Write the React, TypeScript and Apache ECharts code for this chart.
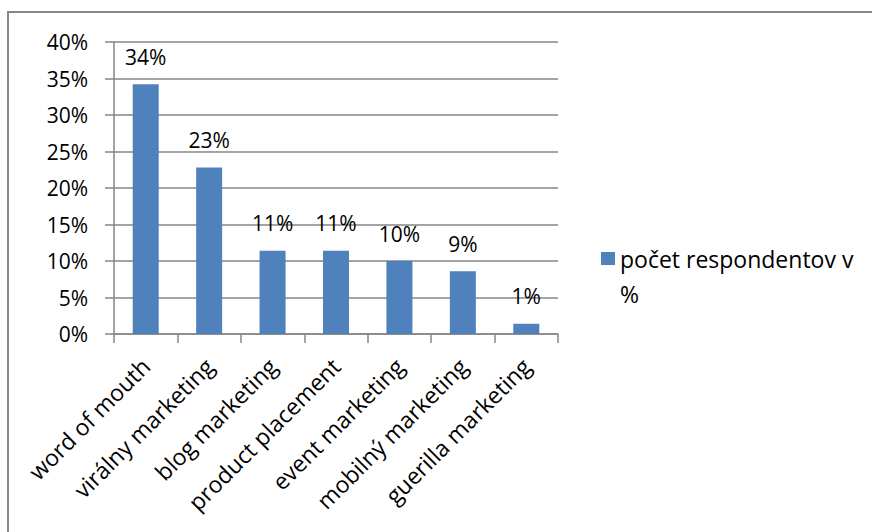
import React, { useEffect, useRef } from "react";
import * as echarts from "echarts";

// Marketing channels and share of respondents (in %)
const categories = [
  "word of mouth",
  "virálny marketing",
  "blog marketing",
  "product placement",
  "event marketing",
  "mobilný marketing",
  "guerilla marketing",
];
const seriesName = "počet respondentov v %";
const values = [34.2, 22.8, 11.4, 11.4, 10.0, 8.6, 1.4];
const yTicks = { min: 0, max: 40, interval: 5 };

const FONT = "'Open Sans', 'Noto Sans', sans-serif";
const AXIS_GRAY = "#868686";
const LEGEND_LINE = 35;

export default function App() {
  const ref = useRef<HTMLDivElement>(null);

  useEffect(() => {
    if (!ref.current) return;
    const chart = echarts.init(ref.current, undefined, { renderer: "svg" });
    chart.setOption({
      animation: false,
      backgroundColor: "#ffffff",
      textStyle: { fontFamily: FONT },
      graphic: [
        {
          type: "rect",
          shape: { x: 8, y: 12, width: 900, height: 560 },
          style: { fill: "none", stroke: "#878787", lineWidth: 2 },
          silent: true,
        },
      ],
      grid: { left: 114, right: 314, top: 42, bottom: 198, containLabel: false },
      legend: {
        left: 596,
        // a leading empty line keeps the first text line level with the swatch
        top: 252 - 5 - (LEGEND_LINE * 3 - 13) / 2,
        itemWidth: 14,
        itemHeight: 13,
        icon: "rect",
        formatter: (name: string) => "\n" + name.replace(/ %$/, "\n%"),
        textStyle: {
          fontFamily: FONT,
          fontSize: 23,
          color: "#000",
          lineHeight: LEGEND_LINE,
        },
        data: [seriesName],
      },
      xAxis: {
        type: "category",
        data: categories,
        boundaryGap: true,
        axisLine: { show: true, lineStyle: { color: AXIS_GRAY, width: 1.5 } },
        axisTick: { show: true, length: 9, alignWithLabel: false, lineStyle: { color: AXIS_GRAY, width: 1.5 } },
        axisLabel: {
          interval: 0,
          rotate: 45,
          margin: 28,
          fontSize: 23,
          color: "#000",
          fontFamily: FONT,
        },
      },
      yAxis: {
        type: "value",
        min: yTicks.min,
        max: yTicks.max,
        interval: yTicks.interval,
        axisLine: { show: true, lineStyle: { color: AXIS_GRAY, width: 1.5 } },
        axisTick: { show: true, length: 9, lineStyle: { color: AXIS_GRAY, width: 1.5 } },
        splitLine: { show: true, lineStyle: { color: AXIS_GRAY, width: 1.5 } },
        axisLabel: {
          formatter: "{value}%",
          margin: 26,
          fontSize: 21,
          color: "#000",
          fontFamily: FONT,
        },
      },
      series: [
        {
          name: seriesName,
          type: "bar",
          data: values,
          barWidth: "41%",
          itemStyle: { color: "#4F81BD" },
          label: {
            show: true,
            position: "top",
            distance: 17,
            fontSize: 21,
            color: "#000",
            fontFamily: FONT,
            formatter: (p: any) => `${Math.round(p.value)}%`,
          },
        },
      ],
    });
    return () => chart.dispose();
  }, []);

  return (
    <div
      ref={ref}
      style={{ position: "fixed", left: 0, top: 0, width: 872, height: 532, background: "#fff" }}
    />
  );
}
